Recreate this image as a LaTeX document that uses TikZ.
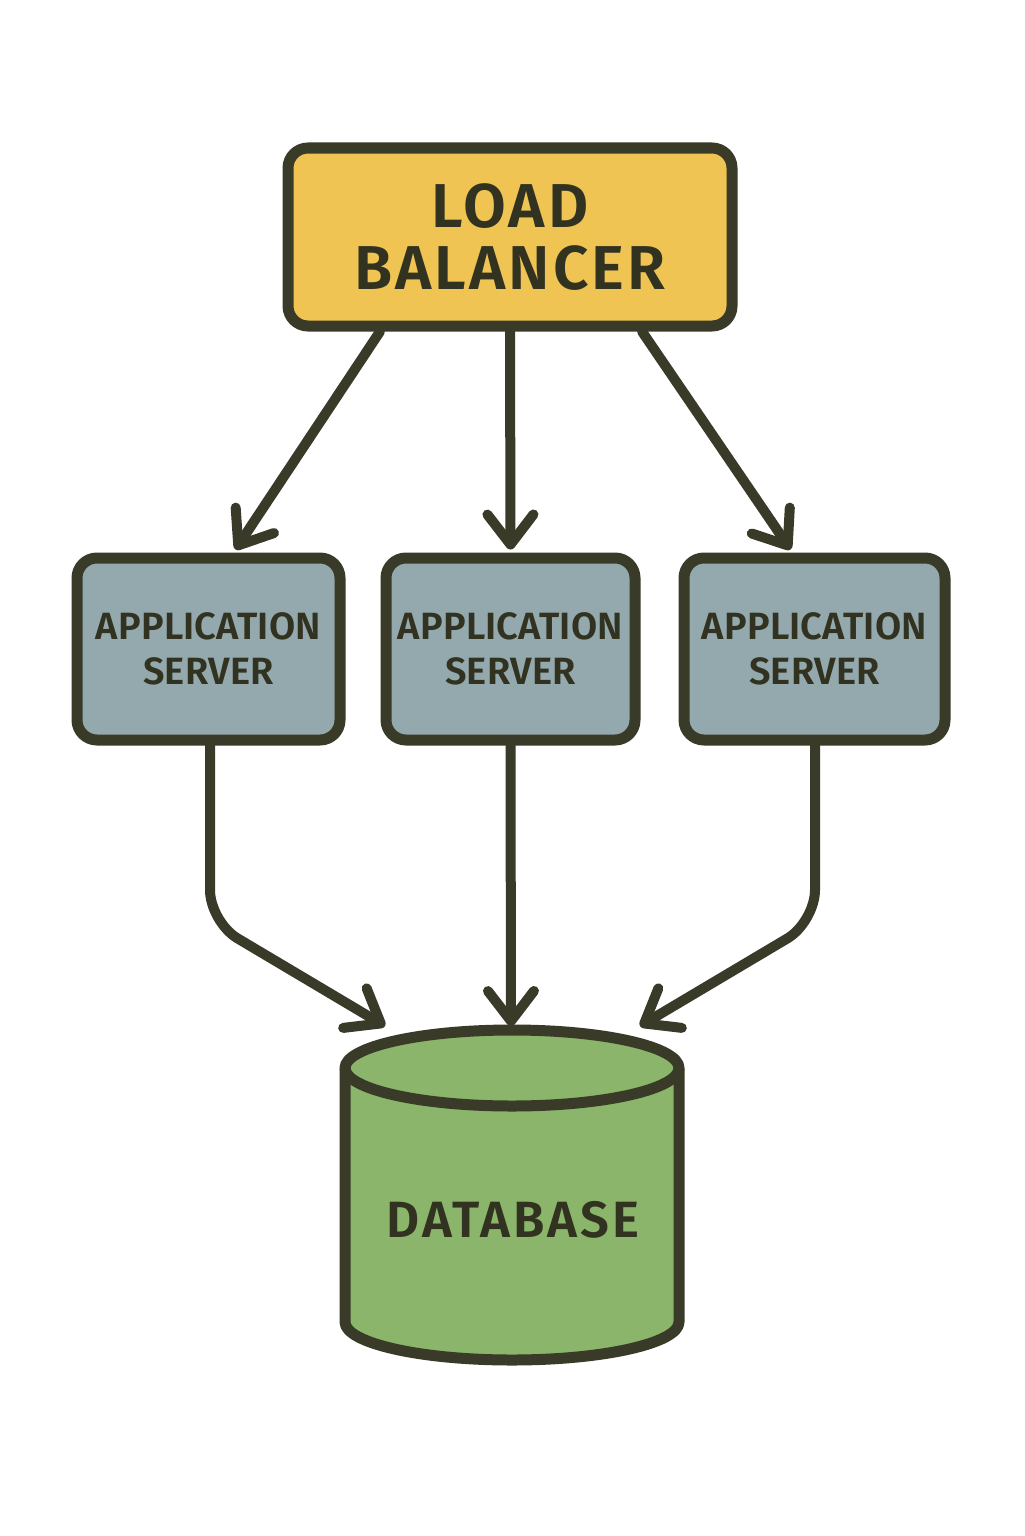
\documentclass[tikz,border=0pt]{standalone}
\usepackage{fontspec}
\setmainfont{Fira Sans}
\newfontfamily\lblA[LetterSpace=5]{Fira Sans SemiBold}
\newfontfamily\lblB[LetterSpace=0.5]{Fira Sans SemiBold}
\newfontfamily\lblC[LetterSpace=6]{Fira Sans SemiBold}
\usetikzlibrary{arrows.meta,calc}
\definecolor{ink}{HTML}{3A3A28}
\definecolor{txt}{HTML}{323221}
\definecolor{lbfill}{HTML}{EFC453}
\definecolor{appfill}{HTML}{94A9AE}
\definecolor{dbfill}{HTML}{8AB56B}
\begin{document}
\begin{tikzpicture}[x=0.5pt,y=-0.5pt,
  box/.style={draw=ink,line width=5.5pt,rounded corners=10pt,align=center,text=txt},
  lbbox/.style={box,fill=lbfill,minimum width=222pt,minimum height=89pt,font=\lblA\fontsize{31}{31}\selectfont},
  appbox/.style={box,fill=appfill,minimum height=91pt,font=\lblB\fontsize{19}{22.5}\selectfont},
  arr/.style={draw=ink,line width=5pt,line cap=round,line join=round,-{Straight Barb[length=15pt,width=23pt,round]}},
  conn/.style={arr,rounded corners=16pt}]
\useasboundingbox (0,0) rectangle (1024,1536);
\fill[white] (0,0) rectangle (1024,1536);
% load balancer
\node[lbbox] (lb) at (510,237) {LOAD\\BALANCER};
% app servers
\node[appbox,minimum width=131.5pt] (app1) at (208.5,649) {APPLICATION\\SERVER};
\node[appbox,minimum width=124.5pt] (app2) at (510.5,649) {APPLICATION\\SERVER};
\node[appbox,minimum width=130.5pt] (app3) at (814.5,649) {APPLICATION\\SERVER};
% database cylinder
\fill[dbfill] (345,1068) -- (345,1322) arc[start angle=180,end angle=0,x radius=167,y radius=38]
  -- (679,1068) arc[start angle=0,end angle=-180,x radius=167,y radius=38] -- cycle;
\draw[ink,line width=5.5pt,line join=round] (345,1068) -- (345,1322) arc[start angle=180,end angle=0,x radius=167,y radius=38]
  -- (679,1068) arc[start angle=0,end angle=-180,x radius=167,y radius=38] -- cycle;
\draw[ink,line width=5.5pt] (345,1068) arc[start angle=180,end angle=0,x radius=167,y radius=38];
\node[text=txt,font=\lblC\fontsize{25.5}{25.5}\selectfont] (db) at (513,1220) {DATABASE};
\coordinate (dbL) at (385,1026);
\coordinate (dbM) at (511,1026);
\coordinate (dbR) at (640,1026);
% arrows from load balancer
\draw[arr] ($(lb.south)+(-130,0)$) -- ($(app1.north)+(27,-3)$);
\draw[arr] (lb.south) -- ($(app2.north)+(0,-3)$);
\draw[arr] ($(lb.south)+(132,0)$) -- ($(app3.north)+(-24,-3)$);
% arrows to database
\draw[conn] ($(app1.south)+(1.5,0)$) -- (210,922) -- (dbL);
\draw[arr] (app2.south) -- (dbM);
\draw[conn] ($(app3.south)+(0.5,0)$) -- (815,922) -- (dbR);
\end{tikzpicture}
\end{document}
